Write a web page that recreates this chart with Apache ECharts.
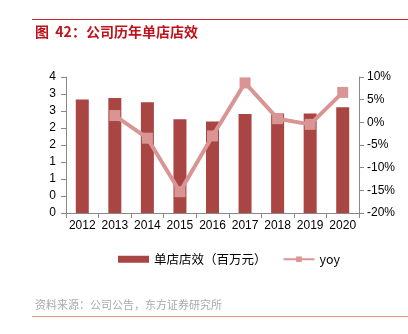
<!DOCTYPE html>
<html><head><meta charset="utf-8">
<script src="https://cdn.jsdelivr.net/npm/echarts@6/dist/echarts.min.js"></script>
<style>html,body{margin:0;padding:0;background:#fff}#c{width:408px;height:334px}</style>
</head><body><div id="c"></div>
<script>
const categories = ['2012','2013','2014','2015','2016','2017','2018','2019','2020'];
const storeEfficiency = [3.34, 3.38, 3.26, 2.76, 2.69, 2.91, 2.93, 2.93, 3.11];
const yoy = [null, 1.5, -3.5, -15.3, -3.0, 8.7, 0.8, -0.45, 6.6];
const leftTicks = [0, 4, 0.5];
const rightTicks = [-20, 10, 5];
const FONT = '"Liberation Sans", "Noto Sans CJK SC", sans-serif';
const chart = echarts.init(document.getElementById('c'), null, {renderer:'canvas'});
chart.setOption({
  animation:false,
  textStyle:{fontFamily:FONT},
  graphic:[
    {type:'line', shape:{x1:32,y1:19.5,x2:408,y2:19.5}, style:{stroke:'#c8282a', lineWidth:1}},
    {type:'text', left:35, top:25, style:{text:'图  42：公司历年单店店效', fill:'#c0121a', font:'bold 14px "Noto Sans CJK SC", sans-serif'}},
    {type:'text', left:35, top:299, style:{text:'资料来源：公司公告，东方证券研究所', fill:'#aaaaaa', font:'11px "Noto Sans CJK SC", sans-serif'}},
    {type:'line', shape:{x1:32,y1:316.5,x2:408,y2:316.5}, style:{stroke:'#e58f8f', lineWidth:1}}
  ],
  grid:{left:66, right:49, top:77, height:136},
  legend:{
    top:248, left:113, itemGap:16,
    textStyle:{fontSize:12.5, color:'#000', fontFamily:'"Noto Sans CJK SC", sans-serif'},
    data:[
      {name:'单店店效（百万元）', icon:'rect', itemStyle:{color:'#a94543'}},
      {name:'yoy'}
    ],
    itemWidth:31, itemHeight:7
  },
  xAxis:{
    type:'category', data:categories,
    axisLine:{lineStyle:{color:'#888'}},
    axisTick:{show:true, lineStyle:{color:'#888'}},
    axisLabel:{color:'#000', fontSize:12, margin:7, interval:0, fontFamily:FONT}
  },
  yAxis:[
    {type:'value', min:leftTicks[0], max:leftTicks[1], interval:leftTicks[2],
     axisLine:{show:true, lineStyle:{color:'#888'}}, axisTick:{show:true, lineStyle:{color:'#888'}},
     splitLine:{show:false},
     axisLabel:{color:'#000', fontSize:12, margin:10, formatter:v=>String(Math.floor(v+1e-9))}},
    {type:'value', min:rightTicks[0], max:rightTicks[1], interval:rightTicks[2],
     axisLine:{show:true, lineStyle:{color:'#888'}}, axisTick:{show:true, lineStyle:{color:'#888'}},
     splitLine:{show:false},
     axisLabel:{color:'#000', fontSize:12, margin:8, formatter:v=>v+'%'}}
  ],
  series:[
    {name:'单店店效（百万元）', type:'bar', data:storeEfficiency, barWidth:13,
     itemStyle:{color:'#a94543'}},
    {name:'yoy', type:'line', yAxisIndex:1, data:yoy,
     symbol:'rect', symbolSize:11, showSymbol:true,
     lineStyle:{color:'#d99593', width:4},
     itemStyle:{color:'#d99593'}}
  ]
});
</script></body></html>
